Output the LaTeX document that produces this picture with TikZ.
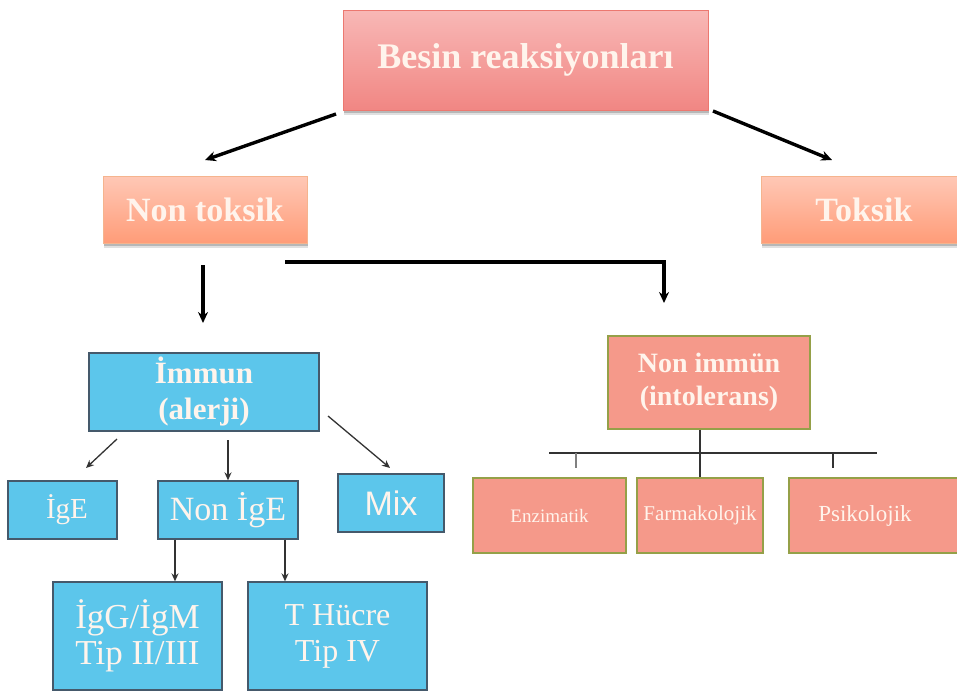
\documentclass[tikz,border=0pt]{standalone}
\usepackage{fontspec}
\setmainfont{Liberation Serif}
\newfontfamily\sansfam{Liberation Sans}
\usetikzlibrary{arrows.meta,shadows}

\definecolor{txtcol}{HTML}{FFF4EC}
\definecolor{rosetop}{HTML}{F8B8B6}
\definecolor{rosebot}{HTML}{F18683}
\definecolor{roseedge}{HTML}{EC7870}
\definecolor{peachtop}{HTML}{FFC8B6}
\definecolor{peachbot}{HTML}{FF9C78}
\definecolor{peachedge}{HTML}{F5B48E}
\definecolor{skyfill}{HTML}{5CC6EB}
\definecolor{skyedge}{HTML}{45596B}
\definecolor{salfill}{HTML}{F5998A}
\definecolor{oliveedge}{HTML}{95A048}
\definecolor{linegray}{HTML}{333333}

\tikzset{
  boxbase/.style={inner sep=0pt, align=center, text=txtcol},
  softshadow/.style={
    drop shadow={shadow xshift=1pt, shadow yshift=-5pt, opacity=0.12, fill=black},
    drop shadow={shadow xshift=1pt, shadow yshift=-3pt, opacity=0.18, fill=black}},
  rosebox/.style={boxbase, draw=roseedge, line width=1pt, top color=rosetop, bottom color=rosebot, softshadow},
  peachbox/.style={boxbase, draw=peachedge, line width=1pt, top color=peachtop, bottom color=peachbot, softshadow},
  skybox/.style={boxbase, draw=skyedge, line width=1.3pt, fill=skyfill},
  salbox/.style={boxbase, draw=oliveedge, line width=1.6pt, fill=salfill},
  headfont/.style={font=\fontsize{34}{36}\selectfont\bfseries},
  bigarrow/.style={line width=3.4pt, -{Stealth[length=11pt,width=10pt]}},
  thinarrow/.style={line width=1.3pt, draw=linegray, -{Stealth[length=8pt,width=7pt]}},
  treeline/.style={line width=1.6pt, draw=linegray},
}

\begin{document}
\begin{tikzpicture}[x=1pt,y=-1pt]
\clip (0,0) rectangle (957,691);
\fill[white] (0,0) rectangle (957,691);

% top level
\node[rosebox, minimum width=365pt, minimum height=100pt,
      font=\fontsize{36}{40}\selectfont\bfseries] (besin) at (525.5,60) {Besin reaksiyonları};
\node[peachbox, headfont, minimum width=204pt, minimum height=67pt] (nontox) at (205,209.5) {Non toksik};
\node[peachbox, headfont, minimum width=206pt, minimum height=67pt] (tox) at (864,209.5) {Toksik};

% immune branch
\node[skybox, minimum width=230pt, minimum height=78pt,
      font=\fontsize{31}{36}\selectfont\bfseries] (immun) at (204,392) {İmmun\\(alerji)};
\node[skybox, minimum width=109pt, minimum height=58pt] (ige) at (62.5,510) {};
\node[boxbase, font=\fontsize{29}{32}\selectfont] (igetxt) at (67,510) {İgE};
\node[skybox, minimum width=140pt, minimum height=58pt,
      font=\fontsize{34}{32}\selectfont] (nonige) at (228,510) {Non İgE};
\node[skybox, minimum width=106pt, minimum height=58pt,
      font=\fontsize{34}{32}\selectfont\sansfam] (mix) at (391,503) {Mix};
\node[skybox, minimum width=169pt, minimum height=108pt,
      font=\fontsize{35}{36}\selectfont] (igg) at (137.5,636) {İgG/İgM\\Tip II/III};
\node[skybox, minimum width=179pt, minimum height=108pt,
      font=\fontsize{32}{36}\selectfont] (thuc) at (337.5,636) {T Hücre\\Tip IV};

% non-immune branch
\node[salbox, minimum width=202pt, minimum height=93pt,
      font=\fontsize{28}{33}\selectfont\bfseries] (nonimm) at (709,382.5) {Non immün\\(intolerans)};
\node[salbox, minimum width=153pt, minimum height=75pt,
      font=\fontsize{19}{22}\selectfont] (enz) at (549.5,515.5) {Enzimatik};
\node[salbox, minimum width=126pt, minimum height=75pt,
      font=\fontsize{21}{22}\selectfont] (farm) at (700,515.5) {Farmakolojik};
\node[salbox, minimum width=171pt, minimum height=75pt] (psibox) at (874.5,515.5) {};
\node[boxbase, font=\fontsize{23}{22}\selectfont] (psi) at (865,515.5) {Psikolojik};

% free ends of connectors
\coordinate (bl) at (336,114);
\coordinate (bla) at (205,160);
\coordinate (br) at (713,111);
\coordinate (bra) at (832,160);
\coordinate (nd) at (203,265);
\coordinate (nda) at (203,323);
\coordinate (ns) at (285,262);
\coordinate (nc) at (664,262);
\coordinate (nca) at (664,303);
\coordinate (i1) at (117,439);
\coordinate (i1a) at (86,468);
\coordinate (i2) at (228,440);
\coordinate (i3) at (328,416);
\coordinate (i3a) at (390,468);
\coordinate (g1) at (175,0);
\coordinate (g2) at (285,0);
\coordinate (hl) at (549,453);
\coordinate (hr) at (877,453);
\coordinate (t1) at (576,453);
\coordinate (t2) at (833,453);

% connectors from the root
\draw[bigarrow] (bl) -- (bla);
\draw[bigarrow] (br) -- (bra);
\draw[bigarrow] (nd) -- (nda);
\draw[line width=3.4pt] (ns) -- ([xshift=1.7pt]nc);
\draw[bigarrow] (nc) -- (nca);

% immune branch connectors
\draw[thinarrow] (i1) -- (i1a);
\draw[thinarrow] (i2) -- (nonige.north -| i2);
\draw[thinarrow] (i3) -- (i3a);
\draw[thinarrow] (nonige.south -| g1) -- (igg.north -| g1);
\draw[thinarrow] (nonige.south -| g2) -- (thuc.north -| g2);

% non-immune tree
\draw[treeline] (nonimm.south -| farm.north) -- (farm.north);
\draw[treeline] (hl) -- (hr);
\draw[treeline, draw=gray] (t1) -- ++(0,15);
\draw[treeline] (t2) -- ++(0,15);
\end{tikzpicture}
\end{document}
